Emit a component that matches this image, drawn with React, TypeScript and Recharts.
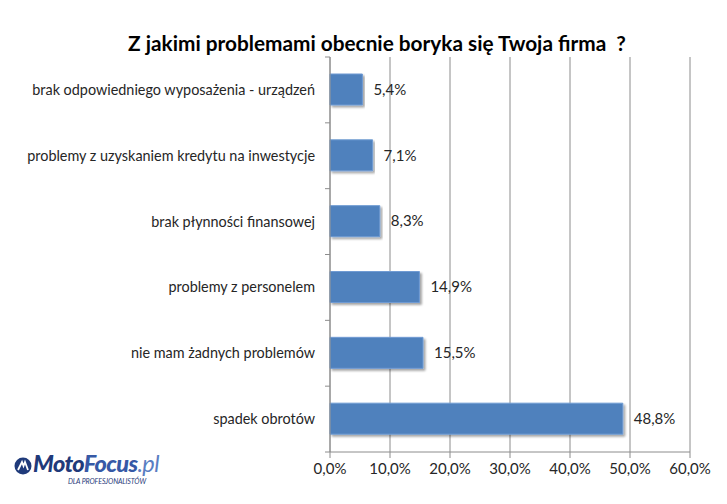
import { BarChart, Bar, XAxis, YAxis, CartesianGrid, LabelList } from 'recharts';

const categories = [
  'brak odpowiedniego wyposażenia - urządzeń',
  'problemy z uzyskaniem kredytu na inwestycje',
  'brak płynności finansowej',
  'problemy z personelem',
  'nie mam żadnych problemów',
  'spadek obrotów',
];
const values = [5.4, 7.1, 8.3, 14.9, 15.5, 48.8];
const xTicks = [0, 10, 20, 30, 40, 50, 60];

const data = categories.map((name, i) => ({ name, v: values[i] }));

const FONT = 'Lato, "Open Sans", sans-serif';
const pct = (v: number) => `${v.toFixed(1).replace('.', ',')}%`;

// band height of one category row, used for the little boundary ticks
const BAND = (452 - 57) / categories.length;

const CategoryTick = (props: any) => {
  const { x, y, payload, index } = props;
  return (
    <g>
      <text x={x} y={y} dy="0.35em" textAnchor="end" fontSize={14.4} fill="#262626" fontFamily={FONT}>
        {payload.value}
      </text>
      {index === 0 && <line x1={x + 10} x2={x + 15} y1={y - BAND / 2} y2={y - BAND / 2} stroke="#8c8c8c" />}
      <line x1={x + 10} x2={x + 15} y1={y + BAND / 2} y2={y + BAND / 2} stroke="#8c8c8c" />
    </g>
  );
};

const Logo = () => (
  <div style={{ position: 'absolute', left: 14, top: 452, fontFamily: FONT, width: 170 }}>
    <svg width={18} height={18} style={{ position: 'absolute', left: 0, top: 5 }}>
      <circle cx={9} cy={9} r={8.5} fill="#1f3a7a" />
      <path d="M4 13 L8 5 L9.5 9 L11 5 L14 13" stroke="#fff" strokeWidth={1.8} fill="none" />
    </svg>
    <div style={{ position: 'absolute', left: 19, top: -3, fontSize: 23.5, fontWeight: 900, fontStyle: 'italic', letterSpacing: -0.6, whiteSpace: 'nowrap' }}>
      <span style={{ color: '#1f3a7a' }}>Moto</span>
      <span style={{ color: '#3659a6' }}>Focus</span>
      <span style={{ color: '#5a7ec2', fontWeight: 400 }}>.pl</span>
    </div>
    <div style={{ position: 'absolute', left: 54, top: 25, fontSize: 7, fontStyle: 'italic', color: '#1f3a7a', whiteSpace: 'nowrap', letterSpacing: -0.1 }}>
      DLA PROFESJONALISTÓW
    </div>
  </div>
);

export default function App() {
  return (
    <div style={{ position: 'absolute', left: 0, top: 0, width: 727, height: 504, background: '#fff' }}>
      <div
        style={{
          position: 'absolute',
          left: 0,
          width: 754,
          top: 30,
          textAlign: 'center',
          fontFamily: FONT,
          fontWeight: 700,
          fontSize: 20.8,
          color: '#000',
          whiteSpace: 'pre',
        }}
      >
        {'Z jakimi problemami obecnie boryka się Twoja firma  ?'}
      </div>
      <BarChart
        width={727}
        height={504}
        data={data}
        layout="vertical"
        margin={{ top: 57, right: 37, bottom: 0, left: 0 }}
        barSize={31}
      >
        <defs>
          <filter id="barShadow" x="-5%" y="-20%" width="110%" height="150%">
            <feDropShadow dx={2} dy={2} stdDeviation={1.2} floodColor="#000" floodOpacity={0.35} />
          </filter>
        </defs>
        <CartesianGrid horizontal={false} stroke="#8c8c8c" />
        <XAxis
          type="number"
          domain={[0, 60]}
          ticks={xTicks}
          tickFormatter={pct}
          height={52}
          stroke="#8c8c8c"
          tickSize={6}
          tickMargin={5}
          tick={{ fontSize: 15, fill: '#262626', fontFamily: FONT }}
        />
        <YAxis
          type="category"
          dataKey="name"
          width={330}
          stroke="#8c8c8c"
          tickLine={false}
          tickSize={0}
          tickMargin={15}
          tick={<CategoryTick />}
          interval={0}
        />
        <Bar dataKey="v" fill="#4f81bd" stroke="#6f9bd3" strokeWidth={1} filter="url(#barShadow)" isAnimationActive={false}>
          <LabelList dataKey="v" position="right" offset={11} formatter={(v: any) => pct(Number(v))} fontSize={15} fill="#262626" fontFamily={FONT} />
        </Bar>
      </BarChart>
      <Logo />
    </div>
  );
}
